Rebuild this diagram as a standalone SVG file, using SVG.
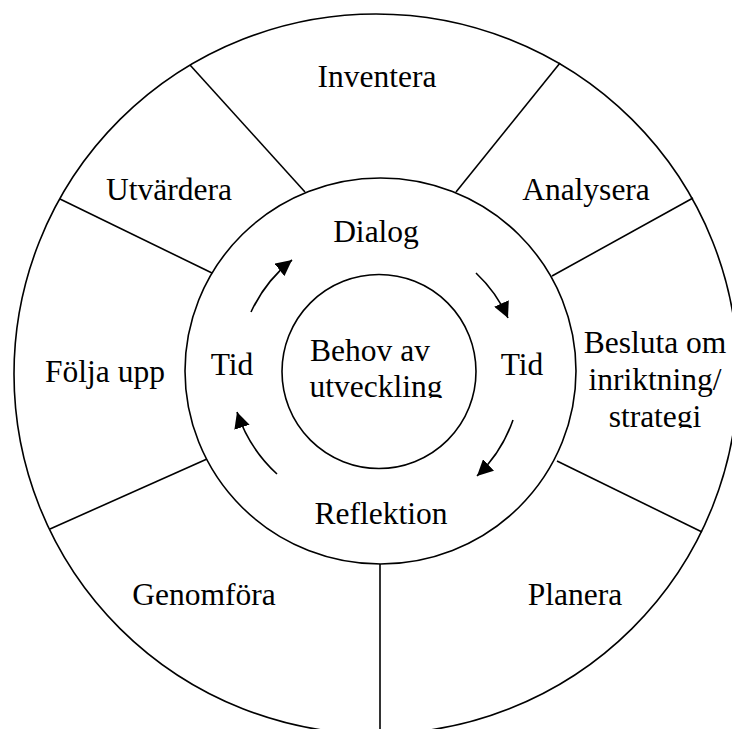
<svg xmlns="http://www.w3.org/2000/svg" width="732" height="729" viewBox="0 0 732 729">
  <style>
    .ring { fill: none; stroke: #000; stroke-width: 1.6; }
    .div { stroke: #000; stroke-width: 1.6; fill: none; }
    .lbl { font-family: "Liberation Serif", "Times New Roman", serif; font-size: 31.5px; fill: #000; text-anchor: middle; }
    .arr { fill: none; stroke: #000; stroke-width: 1.6; marker-end: url(#head); }
  </style>
  <defs>
    <marker id="head" markerUnits="userSpaceOnUse" markerWidth="18" markerHeight="16" refX="16" refY="8" orient="auto">
      <path d="M0,0 L16,8 L0,16 z" fill="#000"/>
    </marker>
    <clipPath id="clipInner"><rect x="280" y="280" width="200" height="118"/></clipPath>
    <clipPath id="clipRight"><rect x="570" y="310" width="162" height="118"/></clipPath>
  </defs>
  <rect width="732" height="729" fill="#fff"/>

  <g id="rings">
    <ellipse class="ring" cx="376" cy="374" rx="362" ry="360"/>
    <ellipse class="ring" cx="380.5" cy="371" rx="195.5" ry="193"/>
    <circle class="ring" cx="379" cy="371.5" r="97"/>
  </g>

  <g id="dividers">
    <line class="div" x1="190" y1="65" x2="305" y2="192"/>
    <line class="div" x1="60" y1="199" x2="212" y2="273"/>
    <line class="div" x1="560" y1="63" x2="456" y2="192"/>
    <line class="div" x1="693" y1="198" x2="552" y2="276"/>
    <line class="div" x1="50" y1="529" x2="207" y2="459"/>
    <line class="div" x1="702" y1="532" x2="557" y2="461"/>
    <line class="div" x1="380" y1="564" x2="380" y2="729"/>
  </g>

  <g id="inventera"><text class="lbl" x="377" y="87">Inventera</text></g>
  <g id="analysera"><text class="lbl" x="586" y="200">Analysera</text></g>
  <g id="besluta">
    <g clip-path="url(#clipRight)">
      <text class="lbl" x="655" y="353">Besluta om</text>
      <text class="lbl" x="655" y="390">inriktning/</text>
      <text class="lbl" x="655" y="427">strategi</text>
    </g>
  </g>
  <g id="planera"><text class="lbl" x="575" y="605">Planera</text></g>
  <g id="genomfora"><text class="lbl" x="204" y="605">Genomföra</text></g>
  <g id="folja-upp"><text class="lbl" x="105" y="382">Följa upp</text></g>
  <g id="utvardera"><text class="lbl" x="169" y="200">Utvärdera</text></g>

  <g id="dialog"><text class="lbl" x="376" y="242">Dialog</text></g>
  <g id="tid-right"><text class="lbl" x="522" y="375">Tid</text></g>
  <g id="reflektion"><text class="lbl" x="381" y="524">Reflektion</text></g>
  <g id="tid-left"><text class="lbl" x="232" y="375">Tid</text></g>

  <g id="behov">
    <g clip-path="url(#clipInner)">
      <text class="lbl" x="370" y="361">Behov av</text>
      <text class="lbl" x="376" y="397">utveckling</text>
    </g>
  </g>

  <g id="connectors">
    <path class="arr" d="M251,312 A142,142 0 0 1 292,260"/>
    <path class="arr" d="M476,273 A140,140 0 0 1 508,318"/>
    <path class="arr" d="M513,420 A142,142 0 0 1 477,476"/>
    <path class="arr" d="M277,474 A146,146 0 0 1 237,412"/>
  </g>
</svg>
